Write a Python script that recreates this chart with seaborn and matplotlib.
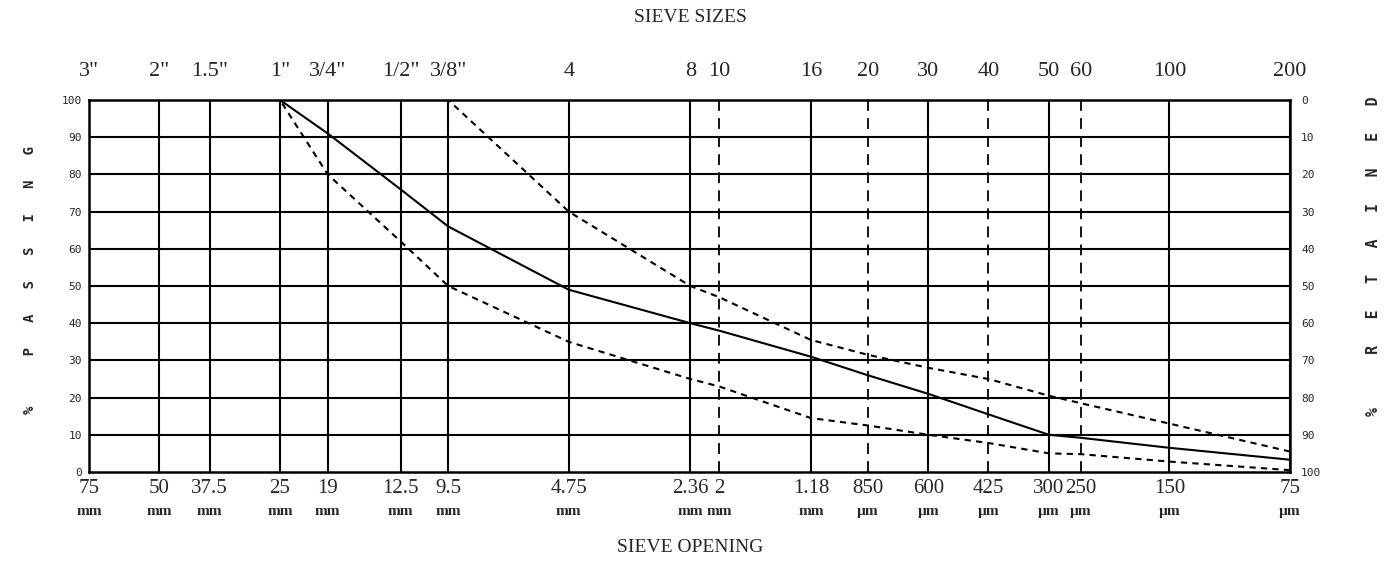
import matplotlib
matplotlib.use("Agg")
import matplotlib.pyplot as plt
from matplotlib.ticker import FixedLocator, NullLocator
import numpy as np
import pandas as pd
import seaborn as sns

# Sieve openings (mm) with their US sieve designations and printed labels
sieve_mm = [75, 50, 37.5, 25, 19, 12.5, 9.5, 4.75, 2.36, 2.0, 1.18,
            0.85, 0.6, 0.425, 0.3, 0.25, 0.15, 0.075]
sieve_names = ['3"', '2"', '1.5"', '1"', '3/4"', '1/2"', '3/8"', '4', '8', '10',
               '16', '20', '30', '40', '50', '60', '100', '200']
opening_labels = ['75', '50', '37.5', '25', '19', '12.5', '9.5', '4.75', '2.36',
                  '2', '1.18', '850', '600', '425', '300', '250', '150', '75']
opening_units = ['mm'] * 11 + ['µm'] * 7
# grid style per sieve line: dashed for the control sieves
grid_dashed = [False, False, False, False, False, False, False, False, False,
               True, False, True, False, True, False, True, False, False]

# Gradation curve (solid)
grad_sizes = [25, 19, 12.5, 9.5, 4.75, 2.36, 2.0, 1.18, 0.85, 0.6, 0.425,
              0.3, 0.25, 0.15, 0.075]
grad_pass = [100, 91, 76, 66, 49, 40, 38, 31, 26, 21, 15.5, 10, 9.2, 6.5, 3.3]

# Lower specification band (dashed)
lower_sizes = [25, 19, 12.5, 9.5, 4.75, 2.36, 2.0, 1.18, 0.85, 0.6, 0.425,
               0.3, 0.25, 0.15, 0.075]
lower_pass = [100, 80, 62, 50, 35, 25, 23, 14.5, 12.5, 10, 7.8, 5, 4.8, 2.8, 0.5]

# Upper specification band (dashed)
upper_sizes = [9.5, 4.75, 2.36, 2.0, 1.18, 0.85, 0.6, 0.425, 0.3, 0.25, 0.15, 0.075]
upper_pass = [100, 70, 50, 47, 35.5, 31.5, 28, 25, 20.5, 18.5, 13, 5.5]

passing_ticks = list(range(0, 101, 10))

df = pd.concat([
    pd.DataFrame({"size": grad_sizes, "passing": grad_pass, "curve": "gradation"}),
    pd.DataFrame({"size": lower_sizes, "passing": lower_pass, "curve": "lower"}),
    pd.DataFrame({"size": upper_sizes, "passing": upper_pass, "curve": "upper"}),
], ignore_index=True)

sns.set_style("white")
plt.rcParams['font.family'] = ['Liberation Serif', 'DejaVu Serif']

W, H = 1393, 563
fig = plt.figure(figsize=(W / 100, H / 100), dpi=100)
ax = fig.add_axes([89 / W, 1 - 472 / H, (1290 - 89) / W, (472 - 100) / H])

ax.set_xscale("log")
ax.set_xlim(75, 0.075)
ax.set_ylim(0, 100)

# chart grid
for s, dashed in zip(sieve_mm, grid_dashed):
    if dashed:
        ax.axvline(s, color="black", lw=1.3, ls=(0, (6, 4)), zorder=1)
    else:
        ax.axvline(s, color="black", lw=1.5, zorder=1)
for v in passing_ticks[1:-1]:
    ax.axhline(v, color="black", lw=1.5, zorder=1)

sns.lineplot(data=df, x="size", y="passing", style="curve",
             dashes={"gradation": "", "lower": (3, 2.5), "upper": (3, 2.5)},
             color="black", linewidth=1.5, legend=False, ax=ax, zorder=3)

for sp in ax.spines.values():
    sp.set_color("black")
    sp.set_linewidth(1.8)

ax.set_xlabel("")
ax.set_ylabel("")
ax.xaxis.set_major_locator(FixedLocator(sieve_mm))
ax.xaxis.set_minor_locator(NullLocator())
ax.set_xticklabels(opening_labels)
ax.tick_params(axis="x", length=0, pad=5, labelsize=15)
ax.set_yticks(passing_ticks)
ax.set_yticklabels([str(v) for v in passing_ticks], family="DejaVu Sans Mono",
                   fontsize=8)
ax.tick_params(axis="y", length=0, pad=5)

for s, u in zip(sieve_mm, opening_units):
    ax.text(s, -0.105, u, transform=ax.get_xaxis_transform(), ha="center",
            va="center", fontsize=11, fontweight="bold")

top = ax.secondary_xaxis("top")
top.xaxis.set_major_locator(FixedLocator(sieve_mm))
top.xaxis.set_minor_locator(NullLocator())
top.set_xticklabels(sieve_names)
top.tick_params(axis="x", length=0, pad=14, labelsize=16)
top.spines["top"].set_visible(False)

right = ax.secondary_yaxis("right", functions=(lambda y: 100 - y, lambda y: 100 - y))
right.set_yticks(passing_ticks)
right.set_yticklabels([str(v) for v in passing_ticks], family="DejaVu Sans Mono",
                      fontsize=8)
right.tick_params(axis="y", length=0, pad=8)
right.spines["right"].set_visible(False)

fig.text(690 / W, 1 - 18 / H, "SIEVE SIZES", ha="center", va="center", fontsize=14)
fig.text(690 / W, 1 - 548 / H, "SIEVE OPENING", ha="center", va="center", fontsize=14)
fig.text(30 / W, 1 - 280 / H, "%      P   A   S   S   I   N   G", rotation=90,
         ha="center", va="center", fontsize=10, fontweight="bold",
         family="DejaVu Sans Mono")
fig.text(1374 / W, 1 - 256 / H, "%      R   E   T   A   I   N   E   D", rotation=90,
         ha="center", va="center", fontsize=10.6, fontweight="bold",
         family="DejaVu Sans Mono")

fig.savefig("out.png", dpi=100, facecolor="white")
